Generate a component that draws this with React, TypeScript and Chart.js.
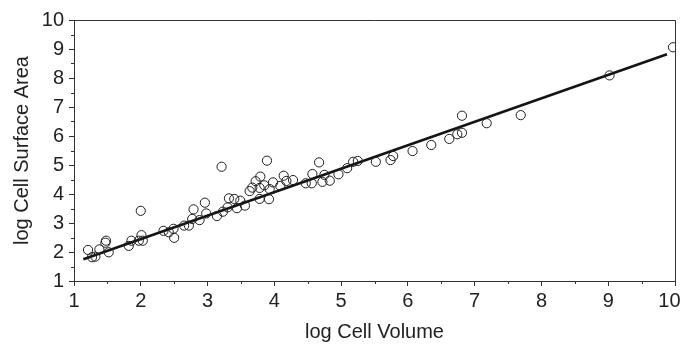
import React, { useEffect, useRef } from "react";
import { Chart, registerables } from "chart.js";

Chart.register(...registerables);

const cellVolume: number[] = [
  1.21, 1.27, 1.32, 1.38, 1.47, 1.48, 1.52, 1.82, 1.86, 1.97, 2.01, 2.03, 2.0, 2.34, 2.42, 2.49, 2.5, 2.65,
  2.72, 2.77, 2.79, 2.88, 2.96, 2.98, 3.14, 3.21, 3.23, 3.3, 3.32, 3.4, 3.44, 3.49, 3.56, 3.63, 3.67, 3.72,
  3.78, 3.79, 3.78, 3.85, 3.89, 3.92, 3.93, 3.98, 4.09, 4.14, 4.18, 4.28, 4.47, 4.56, 4.57, 4.67, 4.72, 4.75,
  4.83, 4.96, 5.09, 5.18, 5.25, 5.52, 5.74, 5.78, 6.07, 6.35, 6.62, 6.74, 6.81, 6.81, 7.18, 7.69, 9.02, 9.97,
];
const cellSurfaceArea: number[] = [
  2.07, 1.82, 1.84, 2.09, 2.32, 2.39, 1.99, 2.21, 2.39, 2.39, 2.58, 2.39, 3.42, 2.73, 2.68, 2.8, 2.49, 2.91,
  2.91, 3.14, 3.47, 3.1, 3.7, 3.33, 3.24, 4.94, 3.39, 3.54, 3.85, 3.83, 3.51, 3.77, 3.6, 4.1, 4.22, 4.44,
  4.21, 4.6, 3.83, 4.3, 5.15, 3.82, 4.17, 4.4, 4.28, 4.63, 4.45, 4.48, 4.37, 4.37, 4.69, 5.09, 4.42, 4.66,
  4.46, 4.68, 4.89, 5.11, 5.14, 5.11, 5.17, 5.31, 5.48, 5.69, 5.9, 6.06, 6.11, 6.7, 6.44, 6.72, 8.09, 9.06,
];
const fitLineX: number[] = [1.14, 9.88];
const fitLineY: number[] = [1.75, 8.82];

const xMinorTicks: number[] = [1.5, 2.5, 3.5, 4.5, 5.5, 6.5, 7.5, 8.5, 9.5];
const yMinorTicks: number[] = [1.5, 2.5, 3.5, 4.5, 5.5, 6.5, 7.5, 8.5, 9.5];

const FONT = "'Liberation Sans', Arial, Helvetica, sans-serif";
const AXIS = "#333333";
const TEXT = "#222222";

const framePlugin = {
  id: "frameAndMinor",
  afterDraw(chart: any) {
    const { ctx, chartArea, scales } = chart;
    const xs = scales.x;
    const ys = scales.y;
    ctx.save();
    ctx.strokeStyle = AXIS;
    ctx.lineWidth = 1;
    ctx.beginPath();
    ctx.moveTo(chartArea.left, chartArea.top + 0.5);
    ctx.lineTo(chartArea.right + 0.5, chartArea.top + 0.5);
    ctx.lineTo(chartArea.right + 0.5, chartArea.bottom);
    ctx.stroke();
    ctx.beginPath();
    for (const v of xMinorTicks) {
      const px = Math.round(xs.getPixelForValue(v)) + 0.5;
      ctx.moveTo(px, chartArea.bottom);
      ctx.lineTo(px, chartArea.bottom + 3);
    }
    for (const v of yMinorTicks) {
      const py = Math.round(ys.getPixelForValue(v)) + 0.5;
      ctx.moveTo(chartArea.left, py);
      ctx.lineTo(chartArea.left - 3, py);
    }
    ctx.stroke();
    ctx.restore();
  },
};

export default function App() {
  const canvasRef = useRef<HTMLCanvasElement | null>(null);

  useEffect(() => {
    const canvas = canvasRef.current;
    if (!canvas) return;
    const scatterData = cellVolume.map((x, i) => ({ x, y: cellSurfaceArea[i] }));
    const lineData = fitLineX.map((x, i) => ({ x, y: fitLineY[i] }));

    const chart = new Chart(canvas, {
      type: "scatter",
      data: {
        datasets: [
          {
            type: "line",
            data: lineData,
            borderColor: "#141414",
            borderWidth: 2.6,
            pointRadius: 0,
            fill: false,
            order: 2,
          } as any,
          {
            type: "scatter",
            data: scatterData,
            pointRadius: 4.6,
            pointBorderWidth: 1,
            pointBorderColor: "#1e1e1e",
            pointBackgroundColor: "rgba(0,0,0,0)",
            borderColor: "#1e1e1e",
            backgroundColor: "rgba(0,0,0,0)",
            order: 1,
          } as any,
        ],
      },
      options: {
        responsive: false,
        animation: false,
        events: [],
        layout: { padding: { top: 20, right: 6, left: 0, bottom: 0 } },
        plugins: {
          legend: { display: false },
          tooltip: { enabled: false },
        },
        scales: {
          x: {
            type: "linear",
            min: 1,
            max: 10,
            afterFit(scale: any) {
              scale.height = 63;
              scale.paddingLeft = 0;
              scale.paddingRight = 0;
            },
            ticks: {
              stepSize: 1,
              maxRotation: 0,
              autoSkip: false,
              padding: 3,
              color: TEXT,
              font: { family: FONT, size: 20 },
              callback: (v: any) => (Number(v) === 10 ? "10  " : String(v)),
            },
            grid: {
              display: true,
              drawOnChartArea: false,
              drawTicks: true,
              tickLength: 5,
              color: AXIS,
              lineWidth: 1,
            },
            border: { display: true, color: AXIS, width: 1 },
            title: {
              display: true,
              text: "log Cell Volume",
              color: TEXT,
              font: { family: FONT, size: 20, lineHeight: 1.2 },
              padding: { top: 0, bottom: 0 },
            },
          },
          y: {
            type: "linear",
            min: 1,
            max: 10,
            afterFit(scale: any) {
              scale.width = 74;
              scale.paddingTop = 0;
              scale.paddingBottom = 0;
            },
            ticks: {
              stepSize: 1,
              autoSkip: false,
              padding: 5,
              color: TEXT,
              font: { family: FONT, size: 20 },
            },
            grid: {
              display: true,
              drawOnChartArea: false,
              drawTicks: true,
              tickLength: 5,
              color: AXIS,
              lineWidth: 1,
            },
            border: { display: true, color: AXIS, width: 1 },
            title: {
              display: true,
              text: "log Cell Surface Area",
              color: TEXT,
              font: { family: FONT, size: 20, lineHeight: 1.2 },
              padding: { top: 10, bottom: 0 },
            },
          },
        },
      },
      plugins: [framePlugin],
    });
    return () => chart.destroy();
  }, []);

  return (
    <div style={{ position: "fixed", left: 0, top: 0, width: 681, height: 344, background: "#fff" }}>
      <canvas ref={canvasRef} width={681} height={344} style={{ display: "block" }} />
    </div>
  );
}
